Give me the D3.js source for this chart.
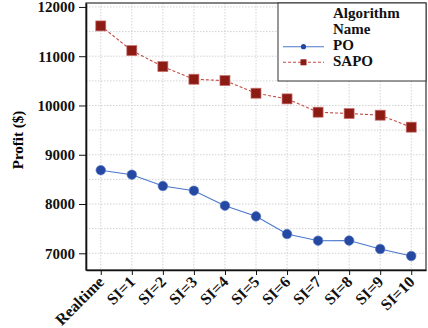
<!DOCTYPE html>
<meta charset="utf-8">
<style>
body { margin: 0; background: #fff; }
.grid line { stroke: #c8c8c8; stroke-dasharray: 1.5,1.5; stroke-width: 0.8px; }
.axis path, .axis line { stroke: #111; }
</style>
<body>
<script src="https://d3js.org/d3.v7.min.js"></script>
<script>
// categories and values
var labels = ["Realtime", "SI=1", "SI=2", "SI=3", "SI=4", "SI=5", "SI=6", "SI=7", "SI=8", "SI=9", "SI=10"];
var po   = [8686, 8595, 8365, 8270, 7966, 7750, 7391, 7256, 7258, 7087, 6945];
var sapo = [11615, 11114, 10789, 10533, 10505, 10249, 10134, 9864, 9836, 9803, 9560];
var yTicks = [7000, 8000, 9000, 10000, 11000, 12000];
var yGrid = [7000, 7500, 8000, 8500, 9000, 9500, 10000, 10500, 11000, 11500, 12000];

var serif = "'Liberation Serif', 'Times New Roman', serif";

var margin = {top: 3, right: 2, bottom: 58, left: 86},
    width = 428 - margin.left - margin.right,
    height = 328 - margin.top - margin.bottom;

var svg = d3.select("body").append("svg")
    .attr("width", 428)
    .attr("height", 328)
  .append("g")
    .attr("transform", "translate(" + margin.left + "," + margin.top + ")");

var x = d3.scalePoint().domain(labels).range([0, width]).padding(0.476);
var y = d3.scaleLinear().domain([6661, 12080]).range([height, 0]);

// grid
var grid = svg.append("g").attr("class", "grid");
grid.selectAll(".gx").data(labels).enter().append("line")
    .attr("x1", function(d) { return x(d); }).attr("x2", function(d) { return x(d); })
    .attr("y1", 0).attr("y2", height);
grid.selectAll(".gy").data(yGrid).enter().append("line")
    .attr("x1", 0).attr("x2", width)
    .attr("y1", function(d) { return y(d); }).attr("y2", function(d) { return y(d); });

// frame
svg.append("rect")
    .attr("width", width).attr("height", height)
    .style("fill", "none").style("stroke", "#333").style("stroke-width", 1.2);

// lines
var line = function(vals) {
  return d3.line()
    .x(function(d, i) { return x(labels[i]); })
    .y(function(d) { return y(d); })(vals);
};

svg.append("path")
    .attr("d", line(po))
    .style("fill", "none").style("stroke", "#4a78cc").style("stroke-width", 1.1);

svg.append("path")
    .attr("d", line(sapo))
    .style("fill", "none").style("stroke", "#c24a45").style("stroke-width", 1.1)
    .style("stroke-dasharray", "3,2");

svg.selectAll(".po").data(po).enter().append("circle")
    .attr("cx", function(d, i) { return x(labels[i]); })
    .attr("cy", function(d) { return y(d); })
    .attr("r", 4.8)
    .style("fill", "#2548a3").style("stroke", "#5a7ac0").style("stroke-width", 0.6);

svg.selectAll(".sapo").data(sapo).enter().append("rect")
    .attr("x", function(d, i) { return x(labels[i]) - 5; })
    .attr("y", function(d) { return y(d) - 5; })
    .attr("width", 10).attr("height", 10)
    .style("fill", "#8c1b14").style("stroke", "#c87070").style("stroke-width", 0.7);

// axes
var xAxis = svg.append("g")
    .attr("class", "axis")
    .attr("transform", "translate(0," + height + ")")
    .call(d3.axisBottom(x).tickSize(5).tickSizeOuter(0));
xAxis.select(".domain").style("stroke-width", 1.6);
xAxis.selectAll("text")
    .style("font-family", serif).style("font-weight", "bold").style("font-size", "16px").style("fill", "#111")
    .style("text-anchor", "end")
    .attr("x", -6.4).attr("y", 11.8).attr("dx", 0).attr("dy", 0)
    .attr("transform", "rotate(-45)");

var yAxis = svg.append("g")
    .attr("class", "axis")
    .call(d3.axisLeft(y).tickValues(yTicks).tickFormat(d3.format("d")).tickSize(7).tickPadding(4).tickSizeOuter(0));
yAxis.select(".domain").style("stroke-width", 1.6);
yAxis.selectAll("text")
    .style("font-family", serif).style("font-weight", "bold").style("font-size", "15px").style("fill", "#111");

svg.append("text")
    .attr("transform", "rotate(-90)")
    .attr("x", -137).attr("y", -63)
    .style("text-anchor", "middle")
    .style("font-family", serif).style("font-weight", "bold").style("font-size", "15px")
    .text("Profit ($)");

// legend
var lg = svg.append("g").attr("transform", "translate(" + (278 - margin.left) + ",0)");
lg.append("rect")
    .attr("width", width - (278 - margin.left)).attr("height", 78)
    .style("fill", "#fff").style("stroke", "#333").style("stroke-width", 1);
var legendText = [["Algorithm", 15], ["Name", 30.5], ["PO", 47], ["SAPO", 62.5]];
lg.selectAll(".lt").data(legendText).enter().append("text")
    .attr("x", 55).attr("y", function(d) { return d[1]; })
    .style("font-family", serif).style("font-weight", "bold").style("font-size", "15px").style("fill", "#111")
    .text(function(d) { return d[0]; });
lg.append("line").attr("x1", 5).attr("x2", 46).attr("y1", 43.7).attr("y2", 43.7)
    .style("stroke", "#4a78cc").style("stroke-width", 1.1);
lg.append("circle").attr("cx", 25.5).attr("cy", 43.7).attr("r", 2.6).style("fill", "#2548a3");
lg.append("line").attr("x1", 5).attr("x2", 46).attr("y1", 59.3).attr("y2", 59.3)
    .style("stroke", "#c24a45").style("stroke-width", 1.1).style("stroke-dasharray", "3,2");
lg.append("rect").attr("x", 22.5).attr("y", 56.3).attr("width", 6).attr("height", 6).style("fill", "#8c1b14");
</script>
</body>
